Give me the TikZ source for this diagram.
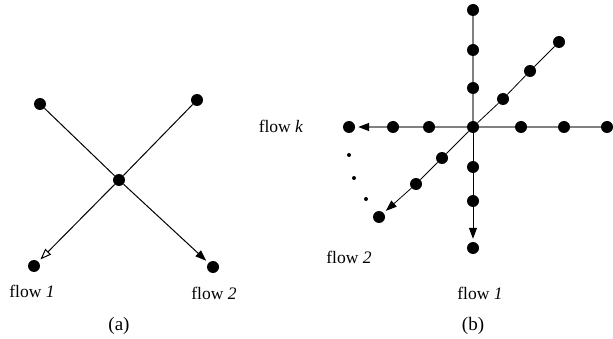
\documentclass[tikz,border=0pt]{standalone}
\usepackage{fontspec}
\setmainfont{Liberation Serif}
\usetikzlibrary{arrows.meta}
\definecolor{linegray}{RGB}{128,128,128}
\tikzset{
    dot/.style={circle, fill=black, inner sep=0pt, minimum size=12pt},
    tinydot/.style={circle, fill=black, inner sep=0pt, minimum size=4pt},
    flowtext/.style={font=\fontsize{17.5}{20}\selectfont, anchor=base, inner sep=0pt},
    subcap/.style={font=\fontsize{19}{22}\selectfont, anchor=base, inner sep=0pt},
    link/.style={black, line width=1pt},
    arrow/.style={-{Triangle[length=11pt, width=8pt, black]}, black, line width=1pt, shorten >=3pt},
    openarrow/.style={-{Triangle[open, length=11pt, width=8pt]}, black, line width=1pt, shorten >=3pt},
    grayline/.style={linegray, line width=1.4pt}
}
\begin{document}
\begin{tikzpicture}[x=1pt, y=-1pt]
    \useasboundingbox (0,0) rectangle (613,339);
    % (a) two flows crossing at one node
    \node[dot] (a0) at (119,180) {};
    \node[dot] (a1) at (40,104) {};
    \node[dot] (a2) at (197,100) {};
    \node[dot] (a3) at (34,266) {};
    \node[dot] (a4) at (213,267) {};
    \draw[link] (a1) -- (a0);
    \draw[link] (a2) -- (a0);
    \draw[openarrow] (a0) -- (a3);
    \draw[arrow] (a0) -- (a4);
    \node[flowtext] (fa1) at (32,297) {flow \textit{1}};
    \node[flowtext] (fa2) at (214,299) {flow \textit{2}};
    \node[subcap] (capa) at (119,330) {(a)};

    % (b) k flows through the centre node
    \node[dot] (b0) at (473,127) {};
    % up
    \node[dot] (u1) at (473,88) {};
    \node[dot] (u2) at (473,50) {};
    \node[dot] (u3) at (473,10) {};
    % up right
    \node[dot] (d1) at (503,99) {};
    \node[dot] (d2) at (530,71) {};
    \node[dot] (d3) at (559,42) {};
    % right
    \node[dot] (r1) at (521,127) {};
    \node[dot] (r2) at (564,127) {};
    \node[dot] (r3) at (607,127) {};
    % left
    \node[dot] (l1) at (429,127) {};
    \node[dot] (l2) at (393,127) {};
    \node[dot] (l3) at (349,127) {};
    % down
    \node[dot] (w1) at (473,167) {};
    \node[dot] (w2) at (473,201) {};
    \node[dot] (w3) at (473,248) {};
    % down left
    \node[dot] (s1) at (442,158) {};
    \node[dot] (s2) at (416,184) {};
    \node[dot] (s3) at (379,217) {};
    % dots between flow 2 and flow k
    \node[tinydot] (e1) at (349,155) {};
    \node[tinydot] (e2) at (354,178) {};
    \node[tinydot] (e3) at (366,199) {};

    \draw[grayline] (b0) -- (u1) -- (u2) -- (u3);
    \draw[grayline] (b0) -- (r1) -- (r2) -- (r3);
    \draw[arrow, grayline] (b0) -- (l1) -- (l2) -- (l3);
    \draw[link, line width=0.8pt] (b0) -- (d1) -- (d2) -- (d3);
    \draw[arrow, line width=0.8pt] (b0) -- (s1) -- (s2) -- (s3);
    \draw[arrow] (b0) -- (w1) -- (w2) -- (w3);

    \node[flowtext] (fbk) at (281,133) {flow \textit{k}};
    \node[flowtext] (fb2) at (349,263) {flow \textit{2}};
    \node[flowtext] (fb1) at (480,299) {flow \textit{1}};
    \node[subcap] (capb) at (473,330) {(b)};
\end{tikzpicture}
\end{document}
